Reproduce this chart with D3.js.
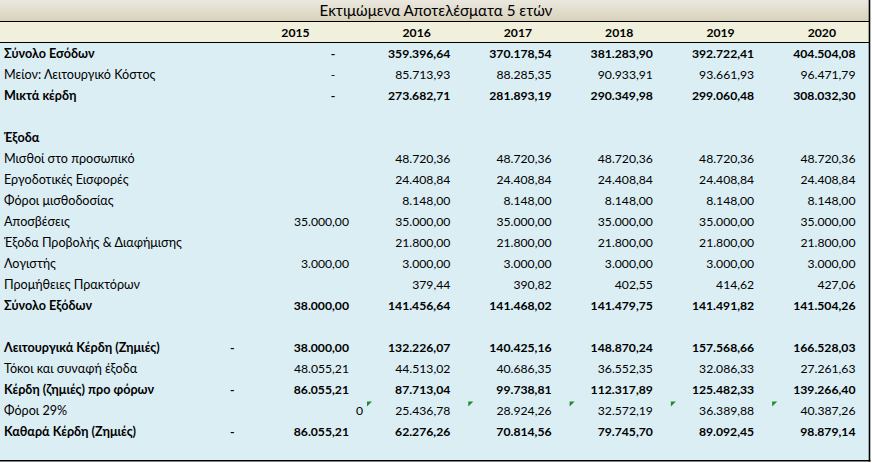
<!DOCTYPE html>
<html><head><meta charset="utf-8">
<script src="https://cdn.jsdelivr.net/npm/d3@7/dist/d3.min.js"></script>
<style>html,body{margin:0;padding:0;background:#fff}svg{display:block}</style>
</head><body>
<script>
const title = "Εκτιμώμενα Αποτελέσματα 5 ετών";
const years = ["2015","2016","2017","2018","2019","2020"];
const rowLabels = [
  "Σύνολο Εσόδων","Μείον: Λειτουργικό Κόστος","Μικτά κέρδη","",
  "Έξοδα","Μισθοί στο προσωπικό","Εργοδοτικές Εισφορές","Φόροι μισθοδοσίας",
  "Αποσβέσεις","Έξοδα Προβολής & Διαφήμισης","Λογιστής","Προμήθειες Πρακτόρων",
  "Σύνολο Εξόδων","","Λειτουργικά Κέρδη (Ζημιές)","Τόκοι και συναφή έξοδα",
  "Κέρδη (ζημιές) προ φόρων","Φόροι 29%","Καθαρά Κέρδη (Ζημιές)"
];
const boldLabels = ["Σύνολο Εσόδων","Μικτά κέρδη","Έξοδα","Σύνολο Εξόδων",
  "Λειτουργικά Κέρδη (Ζημιές)","Κέρδη (ζημιές) προ φόρων","Καθαρά Κέρδη (Ζημιές)"];
const textStoredLabel = "Φόροι 29%";
const v2015 = [0,0,0,null,null,null,null,null,35000,null,3000,null,38000,null,-38000,48055.21,-86055.21,"0",-86055.21];
const v2016 = [359396.64,85713.93,273682.71,null,null,48720.36,24408.84,8148,35000,21800,3000,379.44,141456.64,null,132226.07,44513.02,87713.04,25436.78,62276.26];
const v2017 = [370178.54,88285.35,281893.19,null,null,48720.36,24408.84,8148,35000,21800,3000,390.82,141468.02,null,140425.16,40686.35,99738.81,28924.26,70814.56];
const v2018 = [381283.90,90933.91,290349.98,null,null,48720.36,24408.84,8148,35000,21800,3000,402.55,141479.75,null,148870.24,36552.35,112317.89,32572.19,79745.70];
const v2019 = [392722.41,93661.93,299060.48,null,null,48720.36,24408.84,8148,35000,21800,3000,414.62,141491.82,null,157568.66,32086.33,125482.33,36389.88,89092.45];
const v2020 = [404504.08,96471.79,308032.30,null,null,48720.36,24408.84,8148,35000,21800,3000,427.06,141504.26,null,166528.03,27261.63,139266.40,40387.26,98879.14];
const series = [v2015,v2016,v2017,v2018,v2019,v2020];

const W = 872, H = 463;
const FONT = "Lato, 'Open Sans', sans-serif";
const loc = d3.formatLocale({decimal:",", thousands:".", grouping:[3], currency:["",""]});
const fmt = loc.format(",.2f");

const svg = d3.select("body").append("svg").attr("width",W).attr("height",H);
const defs = svg.append("defs");
const g = defs.append("linearGradient").attr("id","tg").attr("x1",0).attr("y1",0).attr("x2",0).attr("y2",1);
g.append("stop").attr("offset","0%").attr("stop-color","#ebe8e0");
g.append("stop").attr("offset","100%").attr("stop-color","#d8d1ba");

// column geometry
const labelRight = 225;
const colW = 101.3;
const xYear = d3.scaleBand().domain(years.slice(1)).range([366, 366 + colW*5]);
function colLeft(yr){ return yr === years[0] ? labelRight : xYear(yr); }
function colRight(yr){ return yr === years[0] ? xYear(years[1]) : xYear(yr) + xYear.bandwidth(); }

const yRow = d3.scaleBand().domain(d3.range(rowLabels.length)).range([43.5, 43.5 + 21*rowLabels.length]);

// backgrounds
svg.append("rect").attr("x",0).attr("y",0).attr("width",870).attr("height",21).attr("fill","url(#tg)");
svg.append("rect").attr("x",0).attr("y",21).attr("width",870).attr("height",21).attr("fill","#f0f0dd");
svg.append("rect").attr("x",0).attr("y",42).attr("width",870).attr("height",419).attr("fill","#dbeef4");

// lines
svg.append("line").attr("x1",0).attr("x2",870).attr("y1",21.5).attr("y2",21.5).attr("stroke","#000").attr("stroke-width",1);
svg.append("line").attr("x1",0).attr("x2",870).attr("y1",42.5).attr("y2",42.5).attr("stroke","#000").attr("stroke-width",1);
svg.append("line").attr("x1",869.5).attr("x2",869.5).attr("y1",0).attr("y2",461.5).attr("stroke","#000").attr("stroke-width",1.6);
svg.append("line").attr("x1",0).attr("x2",870.5).attr("y1",460.7).attr("y2",460.7).attr("stroke","#000").attr("stroke-width",1.6);

// title
svg.append("text").attr("x",436).attr("y",16).attr("text-anchor","middle")
  .attr("font-family",FONT).attr("font-size",15.2).attr("fill","#000").text(title);

// headers
svg.append("g").selectAll("text").data(years).join("text")
  .attr("x", d => (colLeft(d)+colRight(d))/2)
  .attr("y", 36.5).attr("text-anchor","middle")
  .attr("font-family",FONT).attr("font-size",12.2).attr("font-weight","bold").attr("fill","#000")
  .text(d => d);

// row labels
const body = svg.append("g").attr("font-family",FONT).attr("font-size",12.2).attr("fill","#000");
body.selectAll("text.lab").data(rowLabels).join("text").attr("class","lab")
  .attr("x",4).attr("y",(d,i)=>yRow(i)+yRow.bandwidth()/2).attr("dy","0.35em")
  .attr("font-size",12.6)
  .attr("font-weight", d => boldLabels.includes(d) ? "bold" : "normal")
  .text(d => d);

// cells
const cells = [];
years.forEach((yr,j) => series[j].forEach((v,i) => { if (v !== null) cells.push({yr, i, v}); }));
cells.forEach(c => {
  const cy = yRow(c.i) + yRow.bandwidth()/2;
  const r = colRight(c.yr), l = colLeft(c.yr);
  const w = boldLabels.includes(rowLabels[c.i]) ? "bold" : "normal";
  const add = (x, anchor, t) => body.append("text").attr("x",x).attr("y",cy).attr("dy","0.35em")
      .attr("text-anchor",anchor).attr("font-weight",w).text(t);
  if (typeof c.v === "string") { add(r-3, "end", c.v); return; }
  if (c.v === 0) { add(r-33, "middle", "-"); return; }
  if (c.v < 0) add(l+5, "start", "-");
  add(r-17, "end", fmt(Math.abs(c.v)));
  if (rowLabels[c.i] === textStoredLabel && c.yr !== years[0]) {
    const tx = l+1, ty = yRow(c.i)+1;
    body.append("path").attr("d", d3.line()([[tx,ty],[tx+5,ty],[tx,ty+5]]) + "Z").attr("fill","#1f8a2c");
  }
});
</script>
</body></html>
